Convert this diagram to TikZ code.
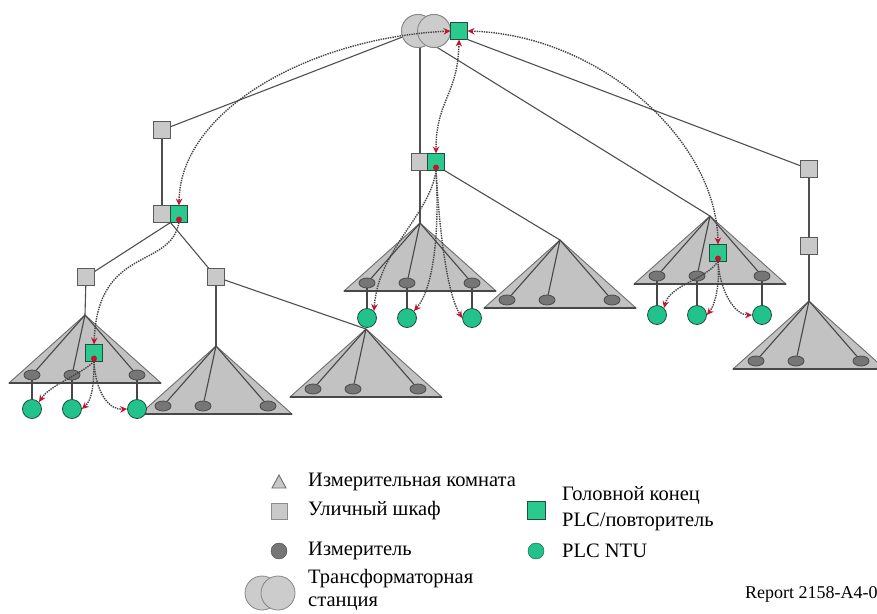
\documentclass[tikz,border=0pt]{standalone}
\usepackage{fontspec}
\setmainfont{Liberation Serif}
\usetikzlibrary{arrows.meta,shapes.geometric}
\definecolor{cabfill}{HTML}{C9C9C9}
\definecolor{edgec}{HTML}{5A5A5A}
\definecolor{hubfill}{HTML}{2CC98F}
\definecolor{hubedge}{HTML}{1F4F3F}
\definecolor{ntufill}{HTML}{22C28C}
\definecolor{trifill}{HTML}{C2C2C2}
\definecolor{triedge}{HTML}{6E6E6E}
\definecolor{meterfill}{HTML}{767676}
\definecolor{meteredge}{HTML}{4A4A4A}
\definecolor{trafofill}{HTML}{CCCCCC}
\definecolor{trafoedge}{HTML}{858585}
\definecolor{linec}{HTML}{4F4F4F}
\definecolor{dotc}{HTML}{454545}
\definecolor{plcred}{HTML}{C41230}
\tikzset{
  ln/.style={draw=linec, line width=1.1pt},
  inl/.style={draw=linec!90!black, line width=1.1pt},
  cab/.style={rectangle, draw=edgec, fill=cabfill, line width=0.9pt, minimum size=17pt, inner sep=0pt, outer sep=0pt},
  hub/.style={cab, fill=hubfill, draw=hubedge},
  ntu/.style={circle, draw=hubedge, fill=ntufill, minimum size=19pt, inner sep=0pt, line width=0.8pt},
  meter/.style={ellipse, draw=meteredge, fill=meterfill, minimum width=16pt, minimum height=10pt, inner sep=0pt, line width=0.8pt},
  trafo/.style={circle, draw=trafoedge, fill=trafofill, minimum size=33pt, inner sep=0pt, line width=0.8pt},
  trif/.style={fill=trifill, draw=triedge, line width=0.9pt, line join=miter},
  tribase/.style={draw=edgec!80!black, line width=1.4pt},
  plc/.style={draw=dotc, dash pattern=on 1.4pt off 1pt, line width=1.4pt},
  rdot/.style={circle, fill=plcred, inner sep=0pt, minimum size=6pt},
  legtext/.style={font=\fontsize{20.5}{23.5}\selectfont, anchor=west, align=left, inner sep=0pt},
  >={Stealth[length=7pt,width=6.5pt,color=plcred]}
}
\newcommand{\meterroom}[3]{%
  \coordinate (#1) at (#2,#3);
  \filldraw[trif] (#1) -- ({#2-76},{#3+68}) -- ({#2+76},{#3+68}) -- cycle;
  \draw[tribase] ({#2-76},{#3+68}) -- ({#2+76},{#3+68});
  \node[meter] (#1m1) at ({#2-53},{#3+60}) {};
  \node[meter] (#1m2) at ({#2-13},{#3+60}) {};
  \node[meter] (#1m3) at ({#2+52},{#3+60}) {};
  \draw[inl] (#1) -- (#1m1);
  \draw[inl] (#1) -- (#1m2);
  \draw[inl] (#1) -- (#1m3);
}
\begin{document}
\begin{tikzpicture}[x=1pt,y=-1pt]
\useasboundingbox (0,0) rectangle (877,613);
% --- nodes that lines attach to
\node[trafo] (tr1) at (418,31) {};
\node[trafo] (tr2) at (434,31) {};
\node[cab] (cA) at (162,130) {};
\node[cab] (cCg) at (162,214) {};
\node[hub] (cCh) at (179,214) {};
\node[cab] (cB) at (86,277) {};
\node[cab] (cC) at (216,277) {};
\node[cab] (mG) at (420,162) {};
\node[hub] (mH) at (436,162) {};
\node[cab] (r1) at (809,169) {};
\node[cab] (r2) at (809,246) {};
\coordinate (T1) at (85,315);
\coordinate (T2) at (216,346);
\coordinate (T3) at (366,329);
\coordinate (T4) at (420,223);
\coordinate (T5) at (560,240);
\coordinate (T6) at (710,216);
\coordinate (T7) at (809,301);
% --- solid feeder lines
\draw[ln] (tr1.center) -- (cA);
\draw[ln] (mG) -- (mG |- tr1.center);
\draw[ln] (tr1.south east) -- (T6);
\draw[ln] (cA) -- (cCg);
\draw[ln] (cCg.south east) -- (cB);
\draw[ln] (cCg.south east) -- (cC);
\draw[ln] (cB) -- (T1);
\draw[ln] (cC) -- (T2);
\draw[ln] (cC) -- (T3);
\draw[ln] (mG) -- (T4);
\draw[ln] (mH.south east) -- (T5);
\draw[ln] (r1) -- (r2);
\draw[ln] (r2) -- (T7);
% --- meter rooms
\meterroom{T1}{85}{315}
\meterroom{T2}{216}{346}
\meterroom{T3}{366}{329}
\meterroom{T4}{420}{223}
\meterroom{T5}{560}{240}
\meterroom{T6}{710}{216}
\meterroom{T7}{809}{301}
% --- redraw nodes on top
\node[trafo] at (tr1) {};
\node[trafo] at (tr2) {};
\node[hub] (top) at (459,31) {};
\draw[ln] (top.south east) -- (r1);
\node[cab] at (cA) {};
\node[cab] at (cCg) {};
\node[hub] at (cCh) {};
\node[cab] at (cB) {};
\node[cab] at (cC) {};
\node[cab] at (mG) {};
\node[hub] at (mH) {};
\node[cab] at (r1) {};
\node[cab] at (r2) {};
\node[hub] (h1) at (94,353) {};
\node[hub] (h6) at (718,253) {};
% --- NTUs
\node[ntu] (n1a) at (32,409) {};
\node[ntu] (n1b) at (72,409) {};
\node[ntu] (n1c) at (137,409) {};
\node[ntu] (n4a) at (367,318) {};
\node[ntu] (n4b) at (407,318) {};
\node[ntu] (n4c) at (472,318) {};
\node[ntu] (n6a) at (657,315) {};
\node[ntu] (n6b) at (697,315) {};
\node[ntu] (n6c) at (762,315) {};
\draw[inl] (T1m1) -- (n1a);
\draw[inl] (T1m2) -- (n1b);
\draw[inl] (T1m3) -- (n1c);
\draw[inl] (T4m1) -- (n4a);
\draw[inl] (T4m2) -- (n4b);
\draw[inl] (T4m3) -- (n4c);
\draw[inl] (T6m1) -- (n6a);
\draw[inl] (T6m2) -- (n6b);
\draw[inl] (T6m3) -- (n6c);
% --- PLC links
\draw[plc,<->] (top.west) .. controls (310,38) and (180,110) .. (cCh.north);
\draw[plc,<->] (top.east) .. controls (600,35) and (716,140) .. (h6.north);
\draw[plc,<->] (top.south) .. controls (458,95) and (436,100) .. (mH.north);
\draw[plc,->] (cCh.south) .. controls (170,270) and (98,245) .. (h1.north);
\draw[plc,->] (mH.south) .. controls (430,215) and (378,250) .. (n4a.north east);
\draw[plc,->] (mH.south) .. controls (440,240) and (432,290) .. (n4b.north east);
\draw[plc,->] (mH.south) .. controls (440,240) and (448,295) .. (n4c.west);
\draw[plc,->] (h1.south) .. controls (80,375) and (50,385) .. (n1a.north east);
\draw[plc,->] (h1.south) .. controls (94,385) and (92,400) .. (n1b.east);
\draw[plc,->] (h1.south) .. controls (96,395) and (110,410) .. (n1c.west);
\draw[plc,->] (h6.south) .. controls (705,280) and (670,285) .. (n6a.north east);
\draw[plc,->] (h6.south) .. controls (720,285) and (715,305) .. (n6b.east);
\draw[plc,->] (h6.south) .. controls (720,292) and (735,315) .. (n6c.west);
\node[rdot] at ([yshift=3pt]cCh.south) {};
\node[rdot] at ([yshift=3pt]mH.south) {};
\node[rdot] at ([yshift=3pt]h1.south) {};
\node[rdot] at ([yshift=3pt]h6.south) {};
% --- legend
\filldraw[trif, fill=trifill!90!white] (279,475) -- (272,488) -- (286,488) -- cycle;
\node[legtext] (l1) at (308,482) {Измерительная комната};
\node[cab, minimum size=16pt, draw=edgec!70] (lcab) at (279,511) {};
\node[legtext] (l2) at (308,511) {Уличный шкаф};
\node[circle, draw=meteredge, fill=meterfill, minimum size=16pt, inner sep=0pt] (lmet) at (279,551) {};
\node[legtext] (l3) at (308,551) {Измеритель};
\node[trafo, minimum size=34pt] (ltr1) at (262,593) {};
\node[trafo, minimum size=34pt] (ltr2) at (278,593) {};
\node[legtext, font=\fontsize{20.5}{22.5}\selectfont] (l4) at (308,590) {Трансформаторная\\станция};
\node[hub, minimum size=18pt] (lhub) at (536,510) {};
\node[legtext, font=\fontsize{20.5}{26}\selectfont] (l5) at (562,509) {Головной конец\\PLC/повторитель};
\node[circle, draw=hubedge, fill=ntufill, minimum size=16pt, inner sep=0pt] (lntu) at (536,551) {};
\node[legtext] (l6) at (562,551) {PLC NTU};
\node[anchor=base west, inner sep=0pt, font=\fontsize{18}{20}\selectfont] (rep) at (745,598) {Report 2158-A4-0};
\end{tikzpicture}
\end{document}
